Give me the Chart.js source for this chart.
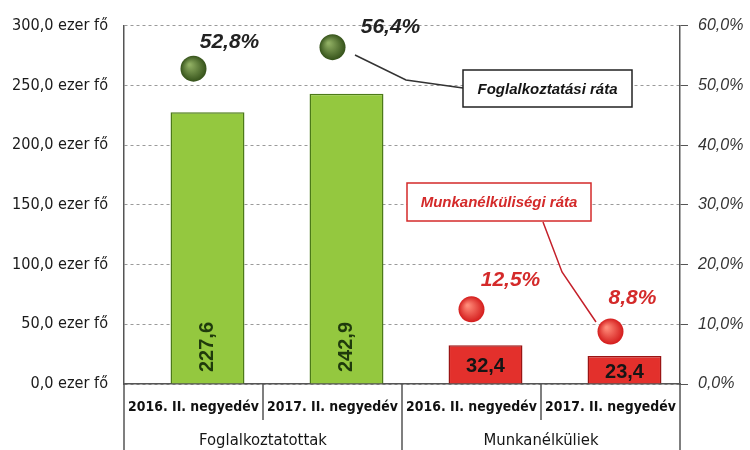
<!DOCTYPE html>
<html>
<head>
<meta charset="utf-8">
<script src="https://cdn.jsdelivr.net/npm/chart.js@4"></script>
<style>
  html, body { margin: 0; padding: 0; background: #fff; }
  #wrap { width: 750px; height: 450px; }
</style>
</head>
<body>
<div id="wrap"><canvas id="chart"></canvas></div>
<script>
const categories = ['2016. II. negyedév', '2017. II. negyedév', '2016. II. negyedév', '2017. II. negyedév'];
const groups = ['Foglalkoztatottak', 'Munkanélküliek'];
const headcount = [227.6, 242.9, 32.4, 23.4]; // ezer fő
const rates = [52.8, 56.4, 12.5, 8.8]; // %
const leftMax = 300;
const leftStep = 50;
const rightMax = 60;
const rightStep = 10;

const SANS = "'Liberation Sans', Arial, sans-serif";

// the original uses a narrow face; take one if installed, else shrink to fit
const probeCtx = document.createElement('canvas').getContext('2d');
function hasFont(name) {
  const probe = 'negyedév 300,0 ezer fő';
  probeCtx.font = '20px monospace';
  const base = probeCtx.measureText(probe).width;
  probeCtx.font = `20px "${name}", monospace`;
  return probeCtx.measureText(probe).width !== base;
}
const narrowName = ['Liberation Sans Narrow', 'DejaVu Sans Condensed', 'Arial Narrow', 'Roboto Condensed'].find(hasFont);
const NARROW = narrowName ? `'${narrowName}', ${SANS}` : SANS;

function fitSize(weight, text, target, maxSize) {
  probeCtx.font = `${weight} 20px ${NARROW}`;
  const w = probeCtx.measureText(text).width;
  return Math.min(maxSize, Math.floor((20 * target / w) * 10) / 10);
}
const leftTickSize = fitSize('normal', '300,0 ezer fő', 96, 19.5);
const catSize = fitSize('bold', '2016. II. negyedév', 131, 18);
const groupSize = fitSize('normal', groups[0], 128, 19);

const barFill = ['#94c83f', '#94c83f', '#e3302c', '#e3302c'];
const barEdge = ['#4c7a18', '#4c7a18', '#9a1414', '#9a1414'];
const rateColor = ['#222222', '#222222', '#d42a2a', '#d42a2a'];
// label offsets from each dot, px
const rateOffset = [[36, -26], [58, -20], [39, -29], [22, -33]];

const fmt = (v) => v.toFixed(1).replace('.', ',');

function dotGradient(ctx) {
  const chart = ctx.chart;
  const green = ctx.dataIndex < 2;
  const flat = green ? '#4a6a28' : '#e2302a';
  if (ctx.type !== 'data' || !chart.scales.y1 || !chart.scales.x) return flat;
  const x = chart.scales.x.getPixelForValue(ctx.dataIndex);
  const y = chart.scales.y1.getPixelForValue(ctx.raw);
  if (!isFinite(x) || !isFinite(y)) return flat;
  const g = chart.ctx.createRadialGradient(x - 4, y - 4, 1, x, y, 13);
  if (green) {
    g.addColorStop(0, '#8fae62');
    g.addColorStop(1, '#35521a');
  } else {
    g.addColorStop(0, '#ff8a78');
    g.addColorStop(1, '#d41c1c');
  }
  return g;
}

const overlay = {
  id: 'overlay',
  afterDatasetsDraw(chart) {
    const { ctx, chartArea } = chart;
    const bars = chart.getDatasetMeta(1).data;
    const dots = chart.getDatasetMeta(2).data;
    ctx.save();
    // values in bars
    bars.forEach((bar, i) => {
      if (i < 2) {
        ctx.save();
        ctx.translate(bar.x, chartArea.bottom - 12);
        ctx.rotate(-Math.PI / 2);
        ctx.font = 'bold 20px ' + SANS;
        ctx.fillStyle = '#1f3a0c';
        ctx.textAlign = 'left';
        ctx.textBaseline = 'middle';
        ctx.fillText(fmt(headcount[i]), 0, 0);
        ctx.restore();
      } else {
        ctx.font = 'bold 20px ' + SANS;
        ctx.fillStyle = '#151515';
        ctx.textAlign = 'center';
        ctx.textBaseline = 'middle';
        ctx.fillText(fmt(headcount[i]), bar.x, (bar.y + chartArea.bottom) / 2 + 2);
      }
    });
    // rate labels
    dots.forEach((pt, i) => {
      ctx.font = 'italic bold 21px ' + SANS;
      ctx.fillStyle = rateColor[i];
      ctx.textAlign = 'center';
      ctx.textBaseline = 'middle';
      ctx.fillText(fmt(rates[i]) + '%', pt.x + rateOffset[i][0], pt.y + rateOffset[i][1]);
    });
    ctx.restore();
  },
  afterDraw(chart) {
    const { ctx, chartArea } = chart;
    const x = chart.scales.x;
    const bottom = chart.height;
    const edge = (i) => (x.getPixelForValue(i) + x.getPixelForValue(i + 1)) / 2;
    ctx.save();
    ctx.strokeStyle = '#555';
    ctx.lineWidth = 1.5;
    const vline = (px, y2) => {
      ctx.beginPath();
      ctx.moveTo(px, chartArea.bottom);
      ctx.lineTo(px, y2);
      ctx.stroke();
    };
    vline(chartArea.left, bottom);
    vline(chartArea.right, bottom);
    vline(edge(1), bottom);
    vline(edge(0), chartArea.bottom + 36);
    vline(edge(2), chartArea.bottom + 36);

    // group labels
    ctx.font = `${groupSize}px ${NARROW}`;
    ctx.fillStyle = '#151515';
    ctx.textAlign = 'center';
    ctx.textBaseline = 'middle';
    ctx.fillText(groups[0], (chartArea.left + edge(1)) / 2, chartArea.bottom + 57);
    ctx.fillText(groups[1], (edge(1) + chartArea.right) / 2, chartArea.bottom + 57);

    // leader lines
    ctx.lineWidth = 1.5;
    ctx.strokeStyle = '#333';
    ctx.beginPath();
    ctx.moveTo(355, 55);
    ctx.lineTo(406, 80);
    ctx.lineTo(463, 88);
    ctx.stroke();
    ctx.strokeStyle = '#c4202a';
    ctx.beginPath();
    ctx.moveTo(543, 222);
    ctx.lineTo(562, 272);
    ctx.lineTo(596, 322);
    ctx.stroke();

    // callout boxes
    const box = (x0, y0, w, h, stroke, color, text) => {
      ctx.fillStyle = '#fff';
      ctx.fillRect(x0, y0, w, h);
      ctx.strokeStyle = stroke;
      ctx.lineWidth = 1.5;
      ctx.strokeRect(x0, y0, w, h);
      ctx.font = 'italic bold 15px ' + SANS;
      ctx.fillStyle = color;
      ctx.textAlign = 'center';
      ctx.textBaseline = 'middle';
      ctx.fillText(text, x0 + w / 2, y0 + h / 2 + 1);
    };
    box(463, 70, 169, 37, '#222', '#151515', 'Foglalkoztatási ráta');
    box(407, 183, 184, 38, '#d42a2a', '#d42a2a', 'Munkanélküliségi ráta');
    ctx.restore();
  },
};

new Chart(document.getElementById('chart'), {
  data: {
    labels: categories,
    datasets: [
      {
        type: 'bar',
        label: '',
        data: categories.map(() => null),
        yAxisID: 'y',
        categoryPercentage: 0.403,
        barPercentage: 2.64,
      },
      {
        type: 'bar',
        label: 'ezer fő',
        data: headcount,
        yAxisID: 'y',
        backgroundColor: barFill,
        borderColor: barEdge,
        borderWidth: 1.5,
        categoryPercentage: 0.403,
        barPercentage: 2.64,
      },
      {
        type: 'line',
        label: 'ráta',
        data: rates,
        yAxisID: 'y1',
        showLine: false,
        pointRadius: 13,
        pointBorderWidth: 0,
        pointBackgroundColor: dotGradient,
        pointBorderColor: 'rgba(0,0,0,0)',
      },
    ],
  },
  options: {
    responsive: true,
    maintainAspectRatio: false,
    animation: false,
    layout: { padding: { top: 24, left: 0, right: 0, bottom: 0 } },
    plugins: { legend: { display: false }, tooltip: { enabled: false } },
    scales: {
      x: {
        grid: { display: false, drawTicks: false },
        border: { display: true, color: '#555', width: 1.5 },
        ticks: { color: '#111', font: { family: NARROW, size: catSize, weight: 'bold' }, padding: 15, maxRotation: 0, autoSkip: false },
        afterFit: (s) => { s.height = 66; },
      },
      y: {
        position: 'left',
        min: 0,
        max: leftMax,
        grid: { color: '#9a9a9a', lineWidth: 1, drawTicks: false },
        border: { display: true, color: '#555', width: 1.5, dash: [3, 3] },
        ticks: { stepSize: leftStep, color: '#1a1a1a', padding: 16, font: { family: NARROW, size: leftTickSize }, callback: (v) => fmt(v) + ' ezer fő' },
        afterFit: (s) => { s.width = 124; },
      },
      y1: {
        position: 'right',
        min: 0,
        max: rightMax,
        grid: { drawOnChartArea: false, color: '#555', tickLength: 8 },
        border: { display: true, color: '#555', width: 1.5 },
        ticks: { stepSize: rightStep, color: '#333', padding: 10, font: { family: SANS, size: 16, style: 'italic' }, callback: (v) => fmt(v) + '%' },
        afterFit: (s) => { s.width = 70; },
      },
    },
  },
  plugins: [overlay],
});
</script>
</body>
</html>
